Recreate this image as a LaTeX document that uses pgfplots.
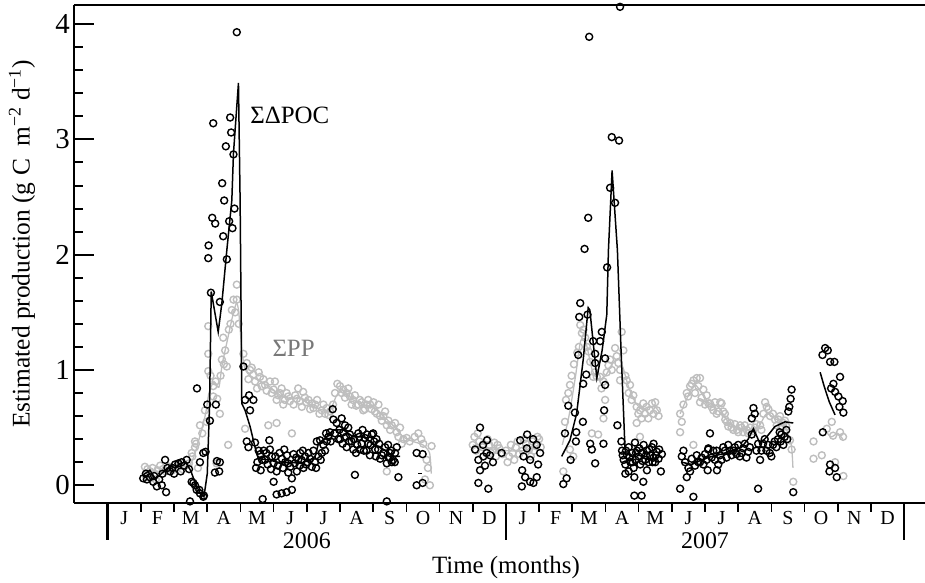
\documentclass[border=0pt]{standalone}
\usepackage{fontspec}
\setmainfont{Liberation Serif}
\usepackage{pgfplots}
\pgfplotsset{compat=1.18}
\definecolor{ppgray}{RGB}{190,190,190}
\definecolor{pptext}{RGB}{120,120,120}

\pgfplotstableread{
x y
1.07 0.06
1.18 0.05
1.27 0.07
1.37 0.03
1.48 -0.01
1.63 0.00
1.76 -0.06
1.73 0.22
1.88 0.12
1.95 0.15
2.03 0.18
2.13 0.19
2.23 0.20
2.30 0.17
2.38 0.22
2.45 0.14
2.53 0.03
2.63 0.00
2.68 -0.04
2.78 -0.07
2.88 -0.10
2.48 -0.14
2.78 0.20
2.88 0.28
2.69 0.84
3.38 0.20
3.36 0.12
1.15 0.10
1.40 0.08
1.55 0.05
1.65 0.10
1.80 0.15
2.00 0.10
2.20 0.12
2.95 0.29
3.29 0.21
3.23 0.11
2.58 0.02
2.76 -0.04
2.90 -0.09
3.00 0.70
3.26 0.70
3.08 0.56
3.04 2.08
3.03 1.97
3.11 1.67
3.38 1.59
3.15 2.32
3.24 2.27
3.45 2.62
3.51 2.47
3.66 2.29
3.76 2.23
3.82 2.40
3.48 2.16
3.59 1.96
3.79 2.87
3.18 3.14
3.69 3.19
3.72 3.06
3.56 2.94
3.89 3.93
4.09 1.03
4.26 0.78
4.14 0.74
4.39 0.74
4.29 0.65
4.19 0.38
4.44 0.37
4.24 0.33
4.51 0.20
4.74 0.22
4.87 0.39
4.89 0.31
4.78 0.28
4.47 0.15
4.61 0.13
5.00 0.19
5.13 0.17
5.25 0.23
5.32 0.31
5.40 0.26
5.44 0.19
5.09 0.12
5.00 0.03
5.44 0.11
5.55 0.06
5.64 0.19
5.74 0.22
5.84 0.22
5.95 0.25
6.02 0.20
6.10 0.23
6.15 0.16
6.25 0.20
6.30 0.38
6.40 0.39
6.50 0.35
6.60 0.38
6.65 0.42
6.70 0.46
6.80 0.57
6.90 0.54
6.78 0.66
7.05 0.58
6.98 0.48
7.10 0.46
7.18 0.42
7.30 0.44
7.20 0.33
7.35 0.38
7.40 0.31
7.48 0.28
7.60 0.31
7.68 0.48
7.75 0.41
7.85 0.36
7.96 0.44
8.03 0.38
8.06 0.31
8.15 0.31
8.21 0.23
8.31 0.28
8.41 0.19
8.51 0.28
8.60 0.22
8.71 0.33
8.76 0.07
7.45 0.09
9.31 0.28
9.49 0.27
9.31 0.00
9.49 0.02
4.67 -0.12
5.09 -0.08
5.24 -0.07
5.39 -0.06
5.55 -0.04
8.41 -0.14
7.00 0.40
7.25 0.50
7.55 0.45
7.65 0.36
7.80 0.30
7.90 0.26
8.00 0.45
8.10 0.40
8.45 0.35
8.55 0.30
8.65 0.20
8.50 0.24
6.45 0.28
6.55 0.30
6.35 0.25
5.90 0.15
5.70 0.12
5.80 0.28
4.95 0.25
4.70 0.30
4.60 0.27
4.55 0.30
4.65 0.22
4.82 0.18
4.92 0.14
5.05 0.25
5.18 0.28
5.28 0.15
5.35 0.20
5.50 0.16
5.60 0.27
5.68 0.24
5.78 0.17
5.88 0.30
5.98 0.18
6.05 0.28
6.20 0.30
6.28 0.15
6.42 0.22
6.58 0.45
6.72 0.38
6.85 0.45
6.95 0.40
7.08 0.36
7.15 0.52
7.28 0.38
7.42 0.40
7.52 0.35
7.58 0.42
7.72 0.30
7.82 0.44
7.92 0.35
8.08 0.25
8.18 0.36
8.26 0.26
8.36 0.33
8.46 0.24
8.56 0.20
8.66 0.28
11.17 0.22
11.22 0.13
11.37 0.17
11.32 0.25
11.42 0.28
11.17 0.02
11.47 -0.03
11.87 0.28
11.22 0.50
11.43 0.39
11.07 0.31
11.52 0.26
11.31 0.35
11.61 0.20
12.53 0.25
13.03 0.28
12.93 0.35
12.82 0.40
12.63 0.32
12.73 0.22
12.58 0.07
12.73 0.03
12.48 -0.01
12.83 0.02
12.93 0.07
12.43 0.39
12.64 0.44
12.97 0.18
12.49 0.13
14.37 2.05
14.24 1.58
14.21 1.46
14.46 1.48
14.89 1.33
14.63 1.25
14.84 1.25
14.69 1.14
14.99 1.10
14.18 1.13
14.69 1.06
14.42 0.96
14.33 0.88
14.99 0.87
13.88 0.69
14.08 0.63
14.96 0.65
14.32 0.55
15.36 0.52
13.78 0.45
14.12 0.46
14.11 0.38
14.54 0.36
14.94 0.36
14.59 0.31
13.95 0.22
14.69 0.19
13.83 0.06
13.73 0.01
14.51 3.89
15.44 4.15
15.19 3.02
15.41 2.99
15.14 2.58
15.05 1.89
14.48 2.32
15.29 2.45
15.87 -0.09
16.09 -0.09
16.14 0.03
15.87 0.07
16.67 0.12
15.89 0.37
15.50 0.30
15.55 0.22
15.60 0.18
15.65 0.26
15.70 0.33
15.75 0.20
15.80 0.28
15.85 0.15
15.90 0.22
15.95 0.30
16.00 0.25
16.05 0.18
16.10 0.28
16.15 0.35
16.20 0.22
16.25 0.30
16.30 0.20
16.35 0.26
16.40 0.33
16.45 0.24
16.50 0.20
16.55 0.29
16.60 0.23
16.70 0.27
15.60 0.10
15.70 0.12
15.48 0.38
16.45 0.36
16.25 0.13
15.52 0.26
15.62 0.30
15.72 0.24
15.82 0.20
15.92 0.28
16.02 0.32
16.12 0.21
16.22 0.26
16.32 0.31
16.42 0.20
16.52 0.26
16.62 0.31
17.30 0.25
17.40 0.20
17.50 0.15
17.45 0.07
17.25 -0.03
17.65 -0.10
17.60 0.23
17.70 0.17
17.80 0.20
17.90 0.24
18.00 0.27
18.10 0.31
18.15 0.45
17.85 0.20
18.10 0.32
18.08 0.13
18.20 0.24
18.30 0.22
18.36 0.13
18.40 0.18
18.50 0.22
18.70 0.35
18.80 0.26
18.95 0.27
19.05 0.25
19.15 0.32
19.30 0.29
19.25 0.24
19.41 0.58
19.46 0.67
19.50 0.62
19.41 0.44
19.55 0.30
19.66 0.22
19.85 0.30
19.95 0.28
20.00 0.25
20.10 0.38
20.20 0.40
20.30 0.44
20.40 0.42
20.36 0.35
20.51 0.64
20.54 0.68
20.58 0.75
20.61 0.83
19.60 -0.03
20.66 -0.06
20.45 0.48
20.25 0.46
20.05 0.35
19.75 0.36
19.60 0.36
19.00 0.35
18.85 0.30
18.60 0.30
18.35 0.30
17.35 0.30
17.55 0.12
17.75 0.26
17.95 0.18
18.05 0.22
18.25 0.30
18.45 0.26
18.55 0.33
18.65 0.24
18.75 0.30
18.90 0.33
19.10 0.28
19.20 0.36
19.35 0.33
19.70 0.30
19.80 0.40
19.90 0.35
20.15 0.33
20.28 0.38
20.48 0.40
21.62 1.19
21.54 1.13
21.70 1.17
21.77 1.07
21.90 1.07
22.07 0.94
21.87 0.88
21.80 0.84
21.92 0.81
22.02 0.77
22.15 0.73
22.05 0.68
22.17 0.63
21.55 0.46
21.77 0.18
21.75 0.12
21.92 0.15
21.97 0.07
}\poc

\pgfplotstableread{
x y
1.12 0.16
1.20 0.14
1.28 0.12
1.35 0.15
1.42 0.10
1.50 0.13
1.58 0.17
1.66 0.14
1.75 0.12
1.85 0.16
1.95 0.13
2.05 0.15
2.15 0.18
2.25 0.14
2.35 0.17
2.45 0.19
2.63 0.33
2.66 0.36
1.15 0.08
1.30 0.06
1.45 0.05
2.55 0.25
2.72 0.15
2.53 0.28
2.63 0.38
2.78 0.52
2.93 0.65
3.03 0.99
3.03 1.14
3.03 1.38
3.18 0.86
3.18 0.77
3.28 0.19
3.38 0.62
3.44 1.09
3.48 1.28
3.54 1.17
3.59 1.03
3.63 0.35
3.74 1.52
3.79 1.61
3.89 1.61
3.89 1.74
4.09 1.14
4.14 0.49
4.19 1.06
4.29 1.00
4.39 0.96
4.59 0.94
4.50 0.84
4.74 0.87
4.89 0.90
4.84 0.52
5.00 0.83
5.09 0.74
5.09 0.54
5.19 0.80
5.29 0.70
5.39 0.80
5.49 0.73
5.55 0.45
5.65 0.78
5.74 0.84
5.80 0.73
5.89 0.81
5.98 0.72
6.15 0.71
6.20 0.67
6.31 0.74
6.45 0.65
6.60 0.67
6.65 0.61
6.79 0.70
7.00 0.86
7.10 0.83
7.20 0.80
7.30 0.77
7.39 0.74
7.49 0.69
7.60 0.74
7.70 0.65
7.80 0.70
7.91 0.70
8.01 0.72
8.11 0.62
8.21 0.60
8.31 0.60
8.41 0.52
8.51 0.48
8.66 0.54
8.76 0.42
8.86 0.36
9.01 0.41
9.36 0.45
9.51 0.36
9.76 0.34
9.61 0.22
9.65 0.15
9.56 0.05
9.71 0.00
8.41 0.12
4.24 0.92
4.34 1.02
4.44 0.90
4.55 0.98
4.64 0.86
4.69 0.92
4.79 0.82
4.94 0.80
5.04 0.90
5.14 0.78
5.24 0.84
5.34 0.74
5.44 0.77
5.60 0.70
5.70 0.75
5.85 0.68
5.94 0.76
6.05 0.74
6.10 0.66
6.25 0.70
6.38 0.62
6.50 0.70
6.55 0.62
6.70 0.64
6.85 0.80
6.92 0.88
7.05 0.80
7.15 0.76
7.25 0.84
7.35 0.70
7.45 0.78
7.55 0.70
7.65 0.72
7.75 0.66
7.85 0.74
7.95 0.66
8.05 0.64
8.16 0.70
8.26 0.56
8.36 0.64
8.46 0.56
8.56 0.52
8.71 0.46
8.81 0.50
8.91 0.40
9.10 0.38
9.25 0.42
9.45 0.40
2.85 0.45
2.98 0.55
3.10 0.95
3.25 0.90
3.30 0.75
3.40 0.95
3.50 1.05
3.65 1.35
3.70 1.40
3.84 1.50
3.95 1.40
11.00 0.35
11.10 0.30
11.20 0.38
11.30 0.33
11.40 0.28
11.50 0.35
11.60 0.30
11.70 0.25
11.80 0.32
11.90 0.27
12.00 0.30
12.10 0.25
12.20 0.28
12.30 0.33
12.40 0.27
12.50 0.30
12.60 0.36
12.70 0.31
12.80 0.38
12.90 0.34
13.00 0.40
13.05 0.33
11.05 0.42
11.45 0.40
12.05 0.20
12.25 0.22
12.75 0.25
11.65 0.37
12.15 0.35
12.55 0.40
11.15 0.45
11.55 0.28
11.75 0.35
12.35 0.38
12.85 0.30
12.95 0.42
13.73 0.12
13.78 0.55
13.88 0.80
13.81 0.74
13.93 0.87
14.24 1.39
14.29 1.32
14.39 1.28
14.44 1.20
14.49 1.16
14.54 1.07
14.63 0.94
14.74 0.94
14.84 0.94
14.94 0.90
14.99 0.74
14.94 0.58
15.09 1.04
15.14 1.09
15.29 1.19
15.34 1.12
15.39 1.06
15.44 1.00
15.44 0.91
15.49 1.33
15.54 1.17
15.64 0.91
15.74 0.87
15.84 0.78
15.79 0.74
15.94 0.68
15.94 0.54
16.04 0.65
16.04 0.42
16.14 0.71
16.24 0.68
16.34 0.65
16.40 0.71
16.50 0.72
16.55 0.65
16.60 0.60
14.59 0.45
14.78 0.44
13.93 0.31
14.03 0.25
14.15 1.15
13.98 0.95
14.05 1.05
14.20 1.20
14.34 1.35
14.68 0.98
14.88 0.84
15.04 0.98
15.19 1.00
15.60 0.95
15.70 0.80
15.99 0.62
16.09 0.58
16.19 0.62
16.29 0.58
16.45 0.62
17.25 0.62
17.25 0.46
17.35 0.70
17.49 0.77
17.55 0.86
17.65 0.91
17.75 0.93
17.65 0.35
17.85 0.93
17.85 0.72
17.95 0.83
18.00 0.70
18.10 0.71
18.15 0.71
18.25 0.65
18.35 0.62
18.46 0.72
18.50 0.71
18.55 0.64
18.61 0.57
18.70 0.51
18.76 0.54
18.85 0.48
18.96 0.48
19.06 0.52
19.15 0.46
19.26 0.48
19.36 0.50
19.51 0.50
19.66 0.52
19.81 0.72
19.86 0.68
19.96 0.60
20.11 0.57
20.21 0.57
20.36 0.54
20.45 0.51
20.56 0.39
20.61 0.31
20.66 0.03
17.30 0.55
17.45 0.80
17.60 0.88
17.70 0.80
17.80 0.86
17.90 0.76
18.05 0.78
18.20 0.68
18.30 0.72
18.40 0.64
18.60 0.62
18.66 0.55
18.80 0.50
18.90 0.53
19.00 0.46
19.10 0.50
19.20 0.52
19.30 0.45
19.45 0.47
19.55 0.53
19.70 0.48
19.76 0.62
19.91 0.66
20.05 0.62
20.16 0.52
20.26 0.60
20.31 0.50
20.41 0.56
21.27 0.38
21.52 0.26
21.27 0.23
21.67 0.49
21.82 0.55
21.86 0.43
22.07 0.46
22.16 0.42
22.17 0.08
21.92 0.20
}\pp

\begin{document}
\begin{tikzpicture}
\begin{axis}[
  scale only axis, width=851bp, height=498bp,
  xmin=-1.016, xmax=24.63, ymin=-0.154, ymax=4.166,
  axis x line*=bottom, axis y line*=left,
  axis line style={line width=2.2bp, black},
  tick align=inside,
  ytick={0,1,2,3,4}, yticklabels={0,1,2,3,4}, minor y tick num=4,
  major tick length=20bp, minor tick length=9bp,
  ytick style={line width=2bp, black},
  yticklabel style={font=\fontsize{29}{29}\selectfont, inner sep=0pt, xshift=-4bp},
  xtick={0.5,1.5,...,23.5},
  xticklabels={J,F,M,A,M,J,J,A,S,O,N,D,J,F,M,A,M,J,J,A,S,O,N,D},
  xtick style={draw=none},
  xticklabel style={font=\fontsize{20}{20}\selectfont, anchor=base, yshift=-21bp},
  ylabel={Estimated production (g C\ \ m\textsuperscript{−2} d\textsuperscript{−1})},
  ylabel style={font=\fontsize{25.5}{25.5}\selectfont, at={(axis description cs:-0.061,0.52)}, anchor=center},
  xlabel={Time (months)},
  xlabel style={font=\fontsize{25}{25}\selectfont, at={(axis description cs:0.5076,0)}, anchor=base, yshift=-70bp},
  clip mode=individual,
]
% PP (grey)
\addplot[only marks, mark=o, mark size=3.5bp, mark options={draw=ppgray, line width=1.4bp}] table {\pp};
\addplot[ppgray, line width=1.3bp, smooth, tension=0.4] coordinates {(1.07,0.12) (1.5,0.12) (2.0,0.13) (2.4,0.15) (2.6,0.25) (2.8,0.45) (2.95,0.62) (3.05,0.80) (3.2,0.90) (3.35,0.85) (3.45,1.05) (3.6,1.25) (3.75,1.45) (3.88,1.58) (3.95,1.50) (4.05,1.15) (4.15,1.00) (4.3,0.95) (4.6,0.90) (4.9,0.85) (5.2,0.78) (5.5,0.75) (5.8,0.76) (6.1,0.70) (6.4,0.66) (6.7,0.65) (6.9,0.78) (7.1,0.82) (7.4,0.74) (7.7,0.70) (8.0,0.68) (8.3,0.60) (8.6,0.52) (8.9,0.42) (9.2,0.38) (9.5,0.35) (9.7,0.28) (9.75,0.10)};
\addplot[ppgray, line width=1.3bp, smooth, tension=0.4] coordinates {(11.0,0.35) (11.5,0.32) (12.0,0.30) (12.5,0.30) (13.0,0.35)};
\addplot[ppgray, line width=1.3bp, smooth, tension=0.4] coordinates {(13.7,0.35) (13.9,0.6) (14.1,0.95) (14.25,1.25) (14.4,1.25) (14.6,1.0) (14.8,0.92) (15.0,0.95) (15.2,1.05) (15.4,1.1) (15.55,1.0) (15.7,0.85) (15.9,0.72) (16.1,0.66) (16.3,0.68) (16.5,0.68) (16.65,0.62)};
\addplot[ppgray, line width=1.3bp, smooth, tension=0.4] coordinates {(17.25,0.62) (17.5,0.78) (17.7,0.87) (17.9,0.80) (18.1,0.72) (18.4,0.68) (18.7,0.55) (19.0,0.50) (19.3,0.48) (19.6,0.50) (19.85,0.62) (20.1,0.58) (20.4,0.52) (20.6,0.35) (20.65,0.15)};
\addplot[ppgray, line width=1.3bp, smooth, tension=0.4] coordinates {(21.6,0.48) (21.8,0.42) (22.0,0.45) (22.15,0.40)};
% POC (black)
\addplot[only marks, mark=o, mark size=3.5bp, mark options={draw=black, line width=1.4bp}] table {\poc};
\addplot[black, line width=1.5bp] coordinates {(1.07,0.09) (1.27,0.13) (1.43,0.06) (1.58,0.09) (1.73,0.13) (1.88,0.17) (2.03,0.15) (2.18,0.19) (2.36,0.20) (2.51,0.12) (2.66,0.00) (2.81,-0.08) (2.90,-0.10) (3.00,0.10) (3.07,0.70) (3.12,1.68) (3.33,1.33) (3.44,1.58) (3.59,2.04) (3.74,2.47) (3.79,2.88) (3.94,3.49) (3.99,2.47) (4.02,1.50) (4.04,0.71) (4.14,0.65) (4.29,0.51) (4.44,0.33) (4.54,0.23) (4.89,0.22) (5.19,0.19) (5.50,0.20) (5.80,0.19) (6.10,0.22) (6.25,0.25) (6.35,0.36) (6.60,0.42) (6.80,0.48) (7.10,0.48) (7.40,0.42) (7.70,0.42) (8.00,0.36) (8.31,0.31) (8.61,0.25) (8.81,0.25)};
\addplot[black, line width=1.5bp] coordinates {(9.36,0.10) (9.48,0.10)};
\addplot[black, line width=1.5bp] coordinates {(13.68,0.25) (13.93,0.39) (14.13,0.62) (14.33,1.09) (14.48,1.54) (14.53,1.52) (14.74,0.93) (14.90,1.17) (15.04,1.48) (15.09,2.04) (15.20,2.73) (15.36,2.04) (15.47,1.17) (15.59,0.31)};
\addplot[black, line width=1.5bp] coordinates {(17.30,0.20) (17.60,0.18) (17.90,0.22) (18.20,0.25) (18.50,0.27) (18.80,0.30) (19.10,0.33) (19.30,0.40) (19.46,0.49) (19.66,0.36) (19.86,0.42) (20.11,0.51) (20.41,0.55) (20.66,0.54)};
\addplot[black, line width=1.5bp] coordinates {(21.47,0.98) (21.60,0.85) (21.75,0.72) (21.92,0.61)};
% axis decorations
\draw[line width=2.2bp] (rel axis cs:0,1) -- (rel axis cs:1,1);
\pgfplotsinvokeforeach{1,2,3,4,5,6,7,8,9,10,11,13,14,15,16,17,18,19,20,21,22,23}{
  \draw[line width=1.6bp] (axis cs:#1,-0.154) -- ++(0pt,-9bp);
}
\pgfplotsinvokeforeach{0,12,24}{
  \draw[line width=2.6bp] (axis cs:#1,-0.154) -- ++(0pt,-37bp);
}
\node[font=\fontsize{24}{24}\selectfont, anchor=base, yshift=-45bp] at (axis cs:6,-0.154) {2006};
\node[font=\fontsize{24}{24}\selectfont, anchor=base, yshift=-45bp] at (axis cs:18,-0.154) {2007};
\node[font=\fontsize{25}{25}\selectfont, anchor=west, inner sep=0pt] at (axis cs:4.29,3.21) {ΣΔPOC};
\node[font=\fontsize{25}{25}\selectfont, anchor=west, inner sep=0pt, text=pptext] at (axis cs:4.96,1.19) {ΣPP};
\end{axis}
\pgfresetboundingbox
\path[use as bounding box] ([xshift=-74bp,yshift=-80bp]current axis.south west) rectangle ([yshift=5bp]current axis.north east);
\end{tikzpicture}
\end{document}
